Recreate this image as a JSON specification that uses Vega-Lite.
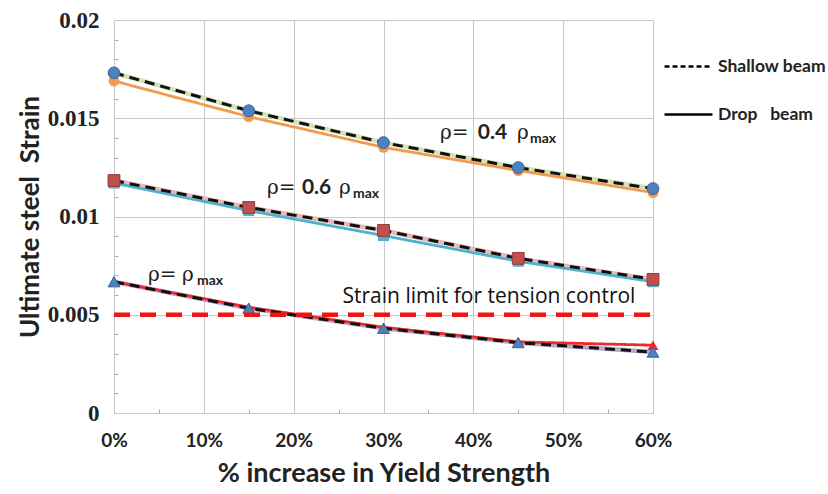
{
  "$schema": "https://vega.github.io/schema/vega-lite/v6.json",
  "autosize": "none",
  "width": 539,
  "height": 393,
  "padding": {"left": 114, "top": 20, "right": 175, "bottom": 81},
  "background": "white",
  "config": {
    "view": {"stroke": "#C8C8C8"},
    "axis": {"gridColor": "#C8C8C8", "gridWidth": 1, "domainColor": "#C8C8C8", "tickSize": 0, "labelColor": "#222222", "titleColor": "#222222", "labelFlush": false}
  },
  "datasets": {
    "curves": [
      {"pct": 0.0, "strain": 0.01731, "rho": "0.4", "beam": "Shallow beam"},
      {"pct": 0.15, "strain": 0.01538, "rho": "0.4", "beam": "Shallow beam"},
      {"pct": 0.3, "strain": 0.01376, "rho": "0.4", "beam": "Shallow beam"},
      {"pct": 0.45, "strain": 0.01249, "rho": "0.4", "beam": "Shallow beam"},
      {"pct": 0.6, "strain": 0.01142, "rho": "0.4", "beam": "Shallow beam"},
      {"pct": 0.0, "strain": 0.0169, "rho": "0.4", "beam": "Drop  beam"},
      {"pct": 0.15, "strain": 0.01508, "rho": "0.4", "beam": "Drop  beam"},
      {"pct": 0.3, "strain": 0.01352, "rho": "0.4", "beam": "Drop  beam"},
      {"pct": 0.45, "strain": 0.01234, "rho": "0.4", "beam": "Drop  beam"},
      {"pct": 0.6, "strain": 0.01122, "rho": "0.4", "beam": "Drop  beam"},
      {"pct": 0.0, "strain": 0.01183, "rho": "0.6", "beam": "Shallow beam"},
      {"pct": 0.15, "strain": 0.01046, "rho": "0.6", "beam": "Shallow beam"},
      {"pct": 0.3, "strain": 0.00929, "rho": "0.6", "beam": "Shallow beam"},
      {"pct": 0.45, "strain": 0.00787, "rho": "0.6", "beam": "Shallow beam"},
      {"pct": 0.6, "strain": 0.0068, "rho": "0.6", "beam": "Shallow beam"},
      {"pct": 0.0, "strain": 0.0117, "rho": "0.6", "beam": "Drop  beam"},
      {"pct": 0.15, "strain": 0.0103, "rho": "0.6", "beam": "Drop  beam"},
      {"pct": 0.3, "strain": 0.00903, "rho": "0.6", "beam": "Drop  beam"},
      {"pct": 0.45, "strain": 0.00772, "rho": "0.6", "beam": "Drop  beam"},
      {"pct": 0.6, "strain": 0.00668, "rho": "0.6", "beam": "Drop  beam"},
      {"pct": 0.0, "strain": 0.00668, "rho": "1.0", "beam": "Shallow beam"},
      {"pct": 0.15, "strain": 0.00533, "rho": "1.0", "beam": "Shallow beam"},
      {"pct": 0.3, "strain": 0.00431, "rho": "1.0", "beam": "Shallow beam"},
      {"pct": 0.45, "strain": 0.00358, "rho": "1.0", "beam": "Shallow beam"},
      {"pct": 0.6, "strain": 0.0031, "rho": "1.0", "beam": "Shallow beam"},
      {"pct": 0.0, "strain": 0.00668, "rho": "1.0", "beam": "Drop  beam"},
      {"pct": 0.15, "strain": 0.00538, "rho": "1.0", "beam": "Drop  beam"},
      {"pct": 0.3, "strain": 0.00436, "rho": "1.0", "beam": "Drop  beam"},
      {"pct": 0.45, "strain": 0.00362, "rho": "1.0", "beam": "Drop  beam"},
      {"pct": 0.6, "strain": 0.00345, "rho": "1.0", "beam": "Drop  beam"}
    ],
    "limit": [{"x": 0, "x2": 0.6, "y": 0.005}],
    "limitText": [{"x": 0.4174, "y": 0.0059, "t": "Strain limit for tension control"}],
    "regular": [
      {"x": 0.3628, "y": 0.01425, "t": "ρ="},
      {"x": 0.4485, "y": 0.01425, "t": "ρ"},
      {"x": 0.1703, "y": 0.01145, "t": "ρ="},
      {"x": 0.2504, "y": 0.01145, "t": "ρ"},
      {"x": 0.0378, "y": 0.00702, "t": "ρ="},
      {"x": 0.0757, "y": 0.00702, "t": "ρ"}
    ],
    "bold": [
      {"x": 0.405, "y": 0.01425, "t": "0.4"},
      {"x": 0.2092, "y": 0.01145, "t": "0.6"}
    ],
    "sub": [
      {"x": 0.463, "y": 0.01395, "t": "max"},
      {"x": 0.266, "y": 0.01115, "t": "max"},
      {"x": 0.0924, "y": 0.00672, "t": "max"}
    ]
  },
  "encoding": {
    "x": {"field": "pct", "type": "quantitative", "scale": {"domain": [0, 0.6], "nice": false, "zero": false}, "axis": null},
    "y": {"field": "strain", "type": "quantitative", "scale": {"domain": [0, 0.02], "nice": false}, "axis": null}
  },
  "layer": [
    {
      "data": {"name": "curves"},
      "transform": [{"filter": "datum.beam == 'Shallow beam'"}],
      "mark": {"type": "line", "strokeWidth": 4.5},
      "encoding": {
        "x": {"field": "pct", "type": "quantitative",
          "scale": {"domain": [0, 0.6], "nice": false, "zero": false},
          "axis": {"orient": "bottom", "values": [0, 0.1, 0.2, 0.3, 0.4, 0.5, 0.6], "format": ".0%", "labelFont": "Lato", "labelFontWeight": "bold", "labelFontSize": 19, "labelPadding": 18,
            "title": "% increase in Yield Strength", "titleFont": "Lato", "titleFontWeight": "bold", "titleFontSize": 27, "titlePadding": 10}},
        "y": {"field": "strain", "type": "quantitative",
          "scale": {"domain": [0, 0.02], "nice": false},
          "axis": {"orient": "left", "values": [0, 0.005, 0.01, 0.015, 0.02], "format": "~g", "labelFont": "Liberation Serif", "labelFontWeight": "bold", "labelFontSize": 23, "labelPadding": 15,
            "title": "Ultimate steel\u00a0 Strain", "titleFont": "Lato", "titleFontWeight": "bold", "titleFontSize": 26, "titlePadding": 4}},
        "color": {"field": "rho", "type": "nominal", "legend": null,
          "scale": {"domain": ["0.4", "0.6", "1.0"], "range": ["#D3E2B0", "#E8B7B6", "#B7A8CC"]}}}
    },
    {
      "data": {"name": "curves"},
      "transform": [{"filter": "datum.beam == 'Drop  beam'"}],
      "mark": {"type": "line", "strokeWidth": 2.8},
      "encoding": {
        "color": {"field": "rho", "type": "nominal", "legend": null,
          "scale": {"domain": ["0.4", "0.6", "1.0"], "range": ["#F39A4C", "#4BB3CC", "#EE2A2A"]}},
        "strokeDash": {"field": "beam", "type": "nominal",
          "scale": {"domain": ["Shallow beam", "Drop  beam"], "range": [[5, 3], [1, 0]]},
          "legend": {"title": null, "orient": "none", "legendX": 549, "legendY": 21, "symbolType": "stroke", "symbolSize": 2300, "symbolStrokeColor": "black", "symbolStrokeWidth": 2.5, "labelFont": "Lato", "labelFontWeight": "bold", "labelFontSize": 17.5, "labelColor": "#222222", "labelOffset": 4, "rowPadding": 14, "padding": 0, "labelExpr": "datum.label == 'Drop  beam' ? 'Drop\u00a0\u00a0 beam' : datum.label"}}
      }
    },
    {
      "data": {"name": "curves"},
      "transform": [{"filter": "datum.beam == 'Drop  beam'"}],
      "mark": {"type": "point", "filled": true, "size": 120, "opacity": 1},
      "encoding": {
        "color": {"field": "rho", "type": "nominal", "legend": null,
          "scale": {"domain": ["0.4", "0.6", "1.0"], "range": ["#F39A4C", "#4BB3CC", "#EE2A2A"]}},
        "shape": {"field": "rho", "type": "nominal", "legend": null,
          "scale": {"domain": ["0.4", "0.6", "1.0"], "range": ["circle", "square", "triangle-up"]}}
      }
    },
    {
      "data": {"name": "curves"},
      "transform": [{"filter": "datum.beam == 'Shallow beam'"}],
      "mark": {"type": "line", "strokeWidth": 3, "color": "#111111", "strokeDash": [10, 6]},
      "encoding": {"detail": {"field": "rho", "type": "nominal"}}
    },
    {
      "data": {"name": "curves"},
      "transform": [{"filter": "datum.beam == 'Shallow beam'"}],
      "mark": {"type": "point", "filled": true, "size": 140, "opacity": 1, "strokeWidth": 1},
      "encoding": {
        "fill": {"field": "rho", "type": "nominal", "legend": null,
          "scale": {"domain": ["0.4", "0.6", "1.0"], "range": ["#4F81BD", "#C0504D", "#4F81BD"]}},
        "stroke": {"field": "rho", "type": "nominal", "legend": null,
          "scale": {"domain": ["0.4", "0.6", "1.0"], "range": ["#3A6499", "#943B38", "#3A6499"]}},
        "shape": {"field": "rho", "type": "nominal", "legend": null,
          "scale": {"domain": ["0.4", "0.6", "1.0"], "range": ["circle", "square", "triangle-up"]}}
      }
    },
    {
      "data": {"name": "limit"},
      "mark": {"type": "rule", "color": "#F01515", "strokeWidth": 4.5, "strokeDash": [16, 10]},
      "encoding": {
        "x": {"field": "x", "type": "quantitative",
          "scale": {"domain": [0, 0.6], "nice": false, "zero": false},
          "axis": {"orient": "bottom", "values": [0.05, 0.15, 0.25, 0.35, 0.45, 0.55], "labels": false, "ticks": true, "tickSize": -4, "tickColor": "#B0B0B0", "domain": false, "grid": false, "title": null}},
        "x2": {"field": "x2"},
        "y": {"field": "y", "type": "quantitative",
          "scale": {"domain": [0, 0.02], "nice": false},
          "axis": {"orient": "left", "values": [0.001, 0.002, 0.003, 0.004, 0.006, 0.007, 0.008, 0.009, 0.011, 0.012, 0.013, 0.014, 0.016, 0.017, 0.018, 0.019], "labels": false, "ticks": true, "tickSize": -4, "tickColor": "#B0B0B0", "domain": false, "grid": false, "title": null}}
      }
    },
    {
      "data": {"name": "limitText"},
      "mark": {"type": "text", "font": "Open Sans", "fontSize": 21, "align": "center", "baseline": "middle", "color": "#111111"},
      "encoding": {"x": {"field": "x", "type": "quantitative"}, "y": {"field": "y", "type": "quantitative"}, "text": {"field": "t"}}
    },
    {
      "data": {"name": "regular"},
      "mark": {"type": "text", "font": "DejaVu Serif", "fontSize": 20, "align": "left", "baseline": "middle", "color": "#222222"},
      "encoding": {"x": {"field": "x", "type": "quantitative"}, "y": {"field": "y", "type": "quantitative"}, "text": {"field": "t"}}
    },
    {
      "data": {"name": "bold"},
      "mark": {"type": "text", "font": "Lato", "fontWeight": "bold", "fontSize": 21, "align": "left", "baseline": "middle", "color": "#222222"},
      "encoding": {"x": {"field": "x", "type": "quantitative"}, "y": {"field": "y", "type": "quantitative"}, "text": {"field": "t"}}
    },
    {
      "data": {"name": "sub"},
      "mark": {"type": "text", "font": "Lato", "fontWeight": "bold", "fontSize": 14, "align": "left", "baseline": "middle", "color": "#222222"},
      "encoding": {"x": {"field": "x", "type": "quantitative"}, "y": {"field": "y", "type": "quantitative"}, "text": {"field": "t"}}
    }
  ],
  "resolve": {"scale": {"color": "independent", "fill": "independent", "stroke": "independent", "shape": "independent"}, "axis": {"x": "independent", "y": "independent"}}
}
